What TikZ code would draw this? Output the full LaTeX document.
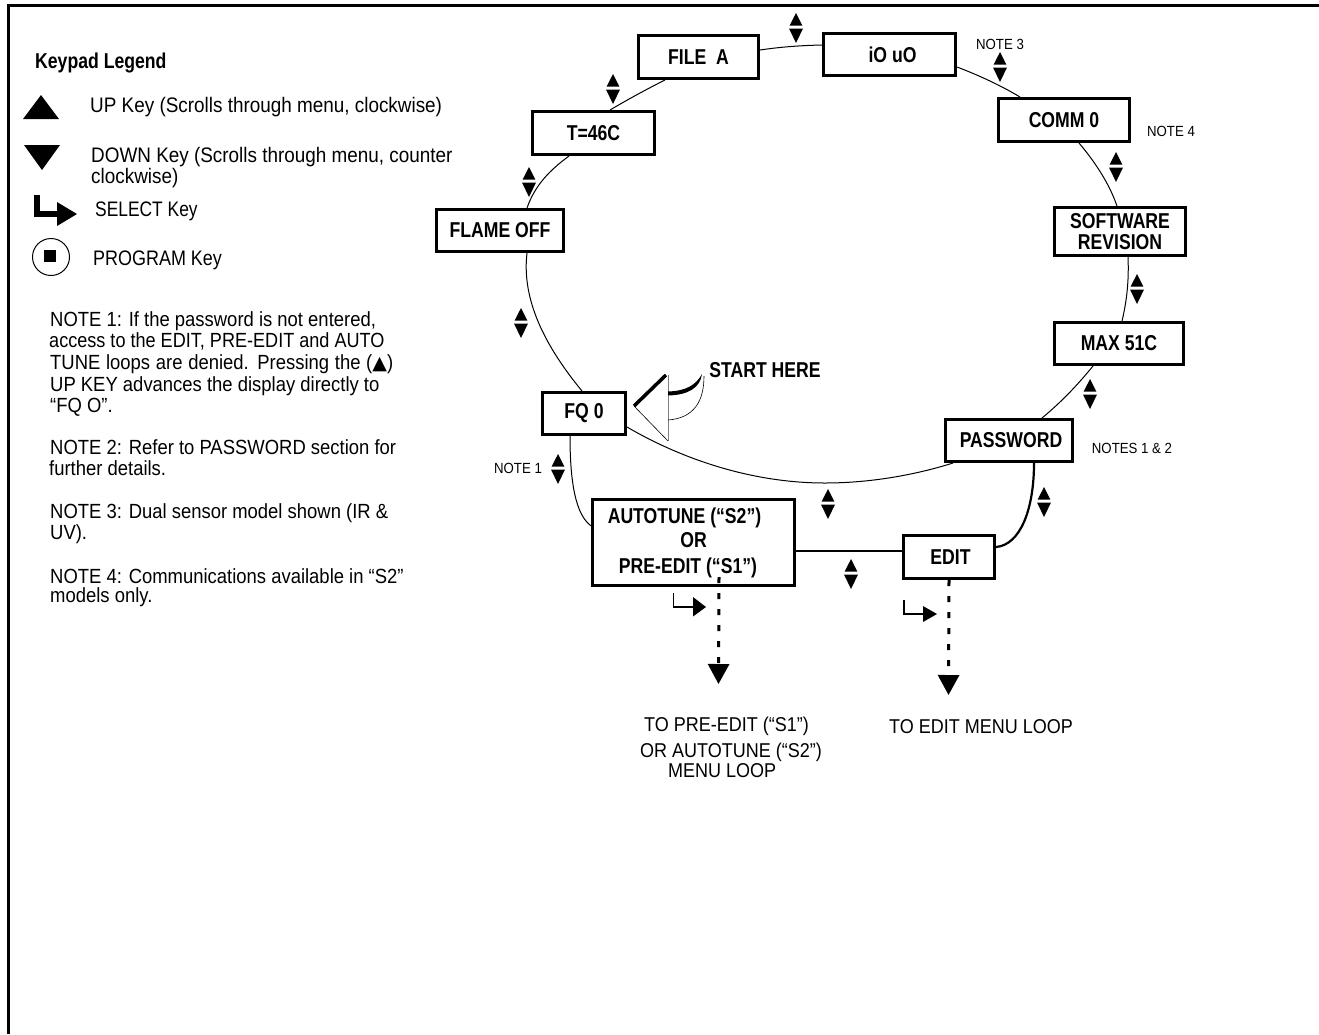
\documentclass[tikz,border=0pt]{standalone}
\usepackage{fontspec}
\setmainfont{Liberation Sans}[FakeStretch=0.9,BoldFeatures={FakeStretch=0.82}]
\newfontfamily\symf{DejaVu Sans}
\usetikzlibrary{calc,arrows.meta}
\newcommand\bx[6]{%
  \pgfmathsetmacro\bcx{(#2+#4)/2}\pgfmathsetmacro\bcy{(#3+#5)/2}%
  \pgfmathsetmacro\bw{#4-#2-3.4}\pgfmathsetmacro\bh{#5-#3-3.4}%
  \node[boxn,minimum width=\bw pt,minimum height=\bh pt] (#1) at (\bcx,\bcy) {#6};}
\newcommand\updown[2]{%
  \fill (#1-6.3,#2-1.5)--(#1+6.3,#2-1.5)--(#1,#2-14)--cycle;
  \fill (#1-7,#2+1.5)--(#1+7,#2+1.5)--(#1,#2+16)--cycle;}
\newcommand\fs[2]{\fontsize{#1}{#2}\selectfont}
\tikzset{
  boxn/.style={draw=black,line width=3.4pt,inner sep=0pt,align=center,font=\bfseries\fs{21.5}{24}},
  conn/.style={line width=1pt},
  legend/.style={anchor=base west,inner sep=0pt,font=\fs{21}{21}},
  notetxt/.style={anchor=base west,inner sep=0pt,font=\fs{20.5}{21}},
  small/.style={inner sep=0pt,font=\fs{14.7}{18}},
  dest/.style={anchor=base west,inner sep=0pt,font=\fs{20}{23}},
  dotline/.style={line width=3pt,dash pattern=on 6pt off 10pt,-{Triangle[width=21pt,length=20pt]}},
}
\begin{document}
\begin{tikzpicture}[x=1pt,y=-1pt]
\useasboundingbox (0,0) rectangle (1319,1034);
% frame
\draw[line width=3pt] (8.5,1034)--(8.5,5.5)--(1319,5.5);
% legend
\node[legend,font=\bfseries\fs{21.5}{21}] (kl) at (35,68) {Keypad Legend};
\fill (23,119)--(59,119)--(41,95)--cycle;
\fill (24,145)--(60,145)--(42,170)--cycle;
\draw[line width=6pt] (37,195)--(37,214)--(60,214);
\fill (57,202)--(57,226)--(77,214)--cycle;
\draw[line width=1pt] (51,257) circle (18.5);
\fill (44,250) rectangle (56,262);
\node[legend] (lup) at (90,112) {UP Key (Scrolls through menu, clockwise)};
\node[legend] (ldn) at (91,162) {DOWN Key (Scrolls through menu, counter};
\node[legend] (ldnb) at (91,183) {clockwise)};
\node[legend] (lsel) at (95,216) {\scalebox{.92}[1]{SELECT Key}};
\node[legend] (lprg) at (93,265) {\scalebox{.95}[1]{PROGRAM Key}};
% notes
\node[notetxt] (n1a) at (50,326) {NOTE 1: If the password is not entered,};
\node[notetxt] (n1b) at (49,347) {\scalebox{.98}[1]{access to the EDIT, PRE-EDIT and AUTO}};
\node[notetxt] (n1c) at (50,369) {\makebox[343pt][s]{TUNE loops are denied. Pressing the ({\symf\fs{19}{21}▲})}};
\node[notetxt] (n1d) at (50,391) {UP KEY advances the display directly to};
\node[notetxt] (n1e) at (50,412) {“FQ O”.};
\node[notetxt] (n2a) at (50,454) {NOTE 2: Refer to PASSWORD section for};
\node[notetxt] (n2b) at (49,475) {further details.};
\node[notetxt] (n3a) at (50,518) {NOTE 3: Dual sensor model shown (IR \&};
\node[notetxt] (n3b) at (50,539) {UV).};
\node[notetxt] (n4a) at (50,583) {NOTE 4: Communications available in “S2”};
\node[notetxt] (n4b) at (50,602) {models only.};
% boxes
\bx{filea}{637}{34}{760}{80}{FILE\ \ A}
\bx{io}{822}{32}{957}{77}{\hspace*{6pt}iO uO}
\bx{comm}{997}{97}{1131}{143}{COMM 0}
\bx{soft}{1053}{206}{1187}{257}{SOFTWARE\\[-3pt]REVISION}
\bx{max}{1053}{321}{1185}{366}{MAX 51C}
\bx{pw}{944}{418}{1074}{463}{\hspace*{4pt}PASSWORD}
\bx{edit}{902}{534}{996}{580}{\hspace*{3pt}EDIT}
\bx{auto}{591}{498}{796}{587}{AUTOTUNE (“S2”)\hspace*{18pt}\\OR\hspace*{8pt}\\[2pt]PRE-EDIT (“S1”)\hspace*{11pt}}
\bx{fq}{541}{391}{627}{436}{FQ 0}
\bx{flame}{435}{208}{565}{253}{FLAME OFF}
\bx{temp}{531}{110}{656}{156}{T=46C}
% loop connectors
\draw[conn] ($(filea.north east)+(0,16)$) .. controls (780,47) and (800,45.5) .. ($(io.north west)+(0,13)$);
\draw[conn] ($(io.south east)+(0,-10)$) .. controls (978,75) and (1000,85) .. ($(comm.north west)+(23,0)$);
\draw[conn] ($(comm.south west)+(82,0)$) .. controls (1095,162) and (1109,183) .. ($(soft.north west)+(64,0)$);
\draw[conn] ($(soft.south west)+(75,0)$) .. controls (1129,280) and (1127,300) .. ($(max.north west)+(69,0)$);
\draw[conn] ($(max.south west)+(40,0)$) .. controls (1075,388) and (1060,403) .. ($(pw.north west)+(98,0)$);
\draw[conn] ($(pw.south west)+(9,0)$) .. controls (915,475) and (870,483) .. (825,483) .. controls (750,483) and (680,458) .. ($(fq.south east)+(0,-9)$);
\draw[conn] ($(fq.north west)+(41,0)$) .. controls (540,340) and (522,295) .. ($(flame.south west)+(92,0)$);
\draw[conn] ($(flame.north west)+(92,0)$) .. controls (535,185) and (550,170) .. ($(temp.south west)+(38,0)$);
\draw[conn] ($(temp.north west)+(79,0)$) .. controls (627,100) and (645,90) .. ($(filea.south west)+(28,0)$);
\draw[conn] ($(fq.south west)+(29,0)$) .. controls (570,480) and (575,517) .. ($(auto.north west)+(2,29)$);
\draw[line width=1.6pt] ($(auto.east)+(0,8.5)$) -- ($(edit.west)+(0,-6)$);
\draw[line width=2.2pt] ($(pw.south west)+(90,0)$) .. controls (1034,510) and (1020,545) .. ($(edit.east)+(0,-10)$);
% up/down key pairs
\updown{796}{27}
\updown{1000}{66}
\updown{1116}{166}
\updown{1137}{288}
\updown{1090}{393}
\updown{1044}{501}
\updown{828}{503}
\updown{851}{573}
\updown{558}{468}
\updown{521}{322}
\updown{529}{181}
\updown{613}{88}
% small notes
\node[small] (s3) at (1000,44) {NOTE 3};
\node[small] (s4) at (1171,131) {NOTE 4};
\node[small] (s12) at (1132,448) {NOTES 1 \& 2};
\node[small] (s1) at (518,468) {NOTE 1};
% start here
\node[inner sep=0pt,font=\bfseries\fs{21.5}{24}] (start) at (765,370) {START HERE};
\draw[line width=.5pt,black!50] (668,375)--(668,441);
\draw[line width=.6pt] (634,406)--(668,441);
\draw[line width=3.5pt] (634,406)--(666,375);
\draw[line width=.6pt] (668,420) .. controls (695,418) and (704,400) .. (704,376);
\fill (668,391.5) .. controls (686,391) and (696,385) .. (702,374) .. controls (700,388) and (688,395) .. (668,395.5) -- cycle;
% select marks
\draw[line width=1.6pt] (673.5,593)--(673.5,607)--(694,607);
\fill (693,597)--(693,616.5)--(706,607)--cycle;
\draw[line width=1.6pt] (904,600)--(904,614)--(924,614);
\fill (923,606)--(923,622)--(937,614)--cycle;
% exits
\coordinate (autoend) at (718.5,684);
\coordinate (editend) at (948.5,695);
\draw[dotline] ($(auto.south west)+(128,-10)$) -- (autoend);
\draw[dotline] ($(edit.south west)+(47,0)$) -- (editend);
\node[dest] (d1a) at (644,731) {TO PRE-EDIT (“S1”)};
\node[dest] (d1b) at (640,757) {OR AUTOTUNE (“S2”)};
\node[dest] (d1c) at (668,777) {MENU LOOP};
\node[dest] (d2) at (889,733) {TO EDIT MENU LOOP};
\end{tikzpicture}
\end{document}
